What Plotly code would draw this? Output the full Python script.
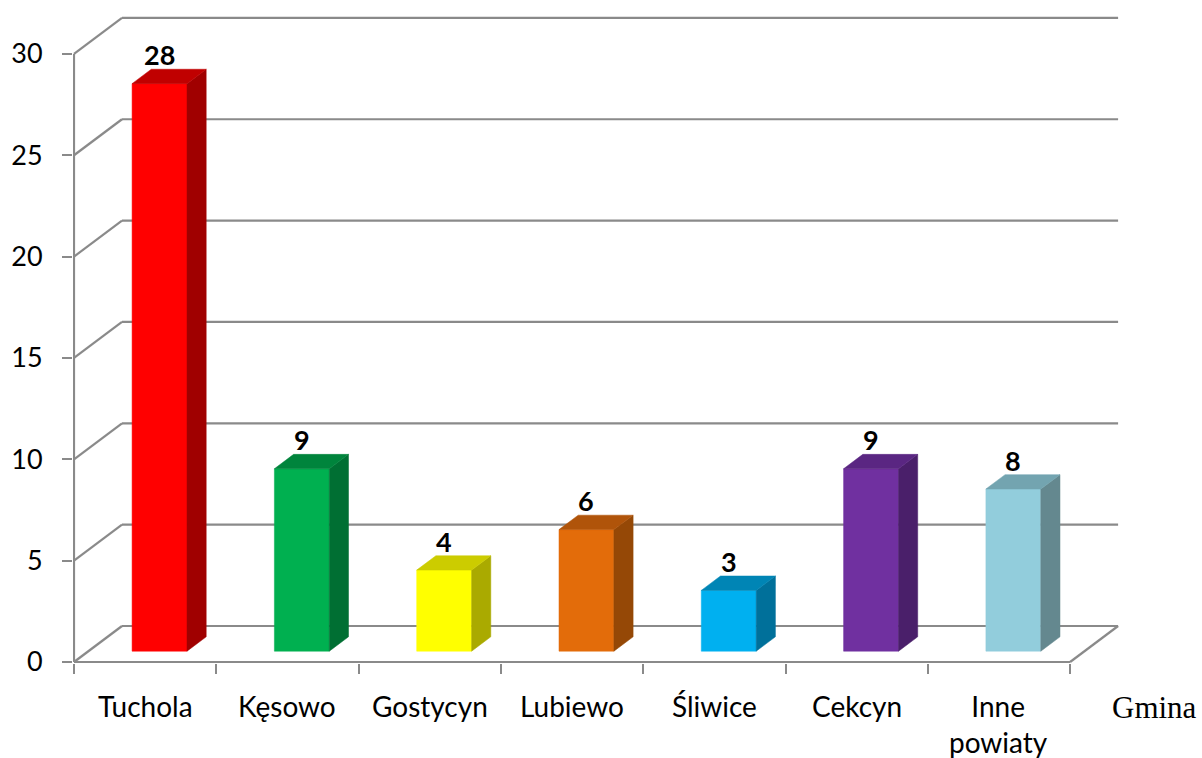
import plotly.graph_objects as go

categories = ["Tuchola", "Kęsowo", "Gostycyn", "Lubiewo", "Śliwice", "Cekcyn", "Inne<br>powiaty"]
values = [28, 9, 4, 6, 3, 9, 8]
front_colors = ["#FF0000", "#00B050", "#FFFF00", "#E36C0A", "#00B0F0", "#7030A0", "#92CDDC"]
top_colors = ["#C00000", "#00843C", "#CCCC00", "#B0540A", "#0085B5", "#5A2682", "#73A4B0"]
side_colors = ["#A00000", "#006F33", "#AAAA00", "#954806", "#00709A", "#4A1F6A", "#64888F"]
y_ticks = [0, 5, 10, 15, 20, 25, 30]
axis_title = "Gmina"

# geometry (pixel scale helpers)
W, H = 1202, 758
PX_CAT = 142.3          # pixels per category
PX_VAL = 20.27          # pixels per value unit
DX = 48 / PX_CAT        # depth offset in category units
DY = 36 / PX_VAL        # depth offset in value units
F0, F1 = 0.3, 0.7       # bar depth (front/back fraction)
HW = 0.193              # bar half width

L, R, T, B = 73, 77, 6, 95
x0 = -0.5 - 1 / PX_CAT
x1 = x0 + (W - L - R) / PX_CAT
y0 = -1 / PX_VAL
y1 = y0 + (H - T - B) / PX_VAL

GRID = "#8A8A8A"
n = len(categories)
fig = go.Figure()

def line(xs, ys, color=GRID, width=2.2):
    fig.add_trace(go.Scatter(x=xs, y=ys, mode="lines", line=dict(color=color, width=width),
                             hoverinfo="skip", showlegend=False))

# back wall gridlines
for v in y_ticks:
    line([-0.5 + DX, n - 0.5 + DX], [v + DY, v + DY])
    line([-0.5, -0.5 + DX], [v, v + DY])
# front axis and floor
line([-0.5, -0.5], [0, y_ticks[-1]])
line([-0.5, n - 0.5], [0, 0])
line([n - 0.5, n - 0.5 + DX], [0, DY])

def poly(xs, ys, color):
    fig.add_trace(go.Scatter(x=xs + [xs[0]], y=ys + [ys[0]], mode="lines", fill="toself",
                             fillcolor=color, line=dict(color=color, width=0.5),
                             hoverinfo="skip", showlegend=False))

for i, v in enumerate(values):
    xl = i - HW + F0 * DX
    xr = i + HW + F0 * DX
    yb = F0 * DY
    yt = v + F0 * DY
    ddx = (F1 - F0) * DX
    ddy = (F1 - F0) * DY
    # front
    poly([xl, xr, xr, xl], [yb, yb, yt, yt], front_colors[i])
    # side
    poly([xr, xr + ddx, xr + ddx, xr], [yb, yb + ddy, yt + ddy, yt], side_colors[i])
    # top
    poly([xl, xr, xr + ddx, xl + ddx], [yt, yt, yt + ddy, yt + ddy], top_colors[i])

annotations = []
for i, v in enumerate(values):
    annotations.append(dict(x=i + F0 * DX, y=v + F0 * DY, xref="x", yref="y", text=f"<b>{v}</b>",
                            showarrow=False, yshift=29, yanchor="middle",
                            font=dict(family="Lato", size=27, color="black")))

def paper_y(px):
    return (H - B - px) / (H - T - B)

for i, c in enumerate(categories):
    annotations.append(dict(x=i, y=paper_y(687), xref="x", yref="paper", text=c, showarrow=False,
                            yanchor="top", align="center",
                            font=dict(family="Lato", size=28, color="black")))

annotations.append(dict(x=(1154 - L) / (W - L - R), y=paper_y(707), xref="paper", yref="paper",
                        text=axis_title, showarrow=False, yanchor="middle", xanchor="center",
                        font=dict(family="Liberation Serif", size=31, color="black")))

fig.update_layout(
    width=W, height=H,
    margin=dict(l=L, r=R, t=T, b=B),
    paper_bgcolor="white", plot_bgcolor="white",
    xaxis=dict(range=[x0, x1], showgrid=False, zeroline=False, showline=False,
               tickmode="array", tickvals=[k - 0.5 for k in range(n + 1)],
               ticks="outside", ticklen=10, tickwidth=2, tickcolor=GRID, showticklabels=False),
    yaxis=dict(range=[y0, y1], showgrid=False, zeroline=False, showline=False,
               tickmode="array", tickvals=y_ticks, ticktext=[str(t) for t in y_ticks],
               ticks="outside", ticklen=10, tickwidth=2, tickcolor=GRID,
               ticklabelstandoff=14, tickfont=dict(family="Lato", size=27, color="black")),
    annotations=annotations,
)

fig.write_html("out.html", config={"displayModeBar": False},
               post_script="document.body.style.margin='0px';document.body.style.overflow='hidden';")
